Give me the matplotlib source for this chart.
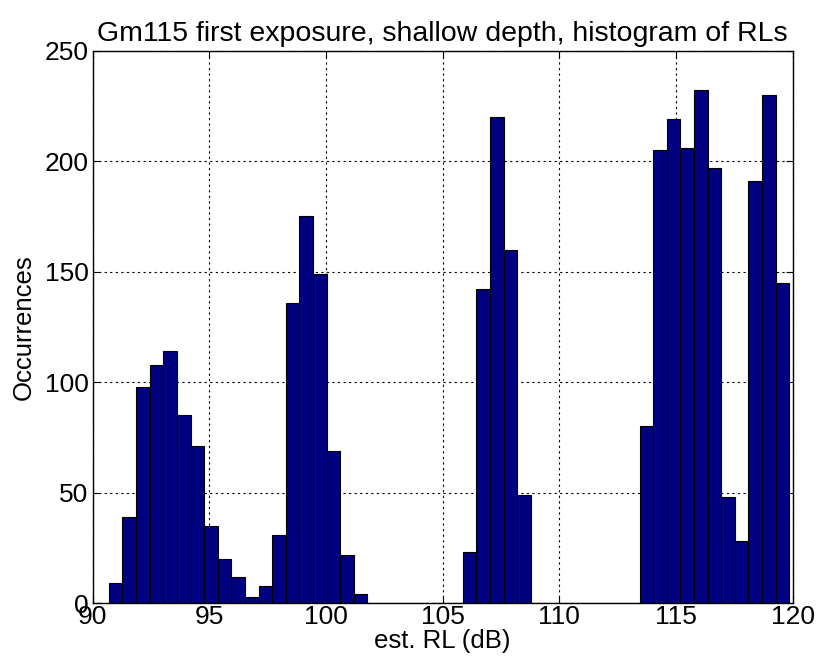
import numpy as np
import matplotlib
matplotlib.use("Agg")
import matplotlib.pyplot as plt

# histogram bin edges (50 bins) and counts
bin_lo = 90.70
bin_hi = 119.85
n_bins = 50
counts = [9, 39, 98, 108, 114, 85, 71, 35, 20, 12,
          3, 8, 31, 136, 175, 149, 69, 22, 4, 0,
          0, 0, 0, 0, 0, 0, 23, 142, 220, 160,
          49, 0, 0, 0, 0, 0, 0, 0, 0, 80,
          205, 219, 206, 232, 197, 48, 28, 191, 230, 145]

x_ticks = [90, 95, 100, 105, 110, 115, 120]
y_ticks = [0, 50, 100, 150, 200, 250]

plt.rcParams['font.family'] = ['Liberation Sans', 'DejaVu Sans']

edges = np.linspace(bin_lo, bin_hi, n_bins + 1)
widths = np.diff(edges)

fig = plt.figure(figsize=(8.19, 6.65), dpi=100)
ax = fig.add_axes([0.113, 0.0928, 0.855, 0.831])

ax.bar(edges[:-1], counts, width=widths, align='edge',
       color=(0, 0, 0.5), edgecolor='black', linewidth=0.8, zorder=3)

ax.set_xlim(90, 120)
ax.set_ylim(0, 250)
ax.set_xticks(x_ticks)
ax.set_yticks(y_ticks)
ax.tick_params(direction='in', length=5, labelsize=19,
               top=True, right=True)
ax.tick_params(axis='x', pad=1)
ax.tick_params(axis='y', pad=3)
ax.grid(True, color='black', linestyle=(0, (2, 3)), linewidth=0.8, zorder=1)
for s in ax.spines.values():
    s.set_linewidth(1.0)
    s.set_zorder(4)

ax.set_title("Gm115 first exposure, shallow depth, histogram of RLs",
             fontsize=20.5, pad=7)
ax.set_xlabel("est. RL (dB)", fontsize=18.5, labelpad=0)
ax.set_ylabel("Occurrences", fontsize=18.5, labelpad=6)

fig.savefig("out.png", dpi=100)
